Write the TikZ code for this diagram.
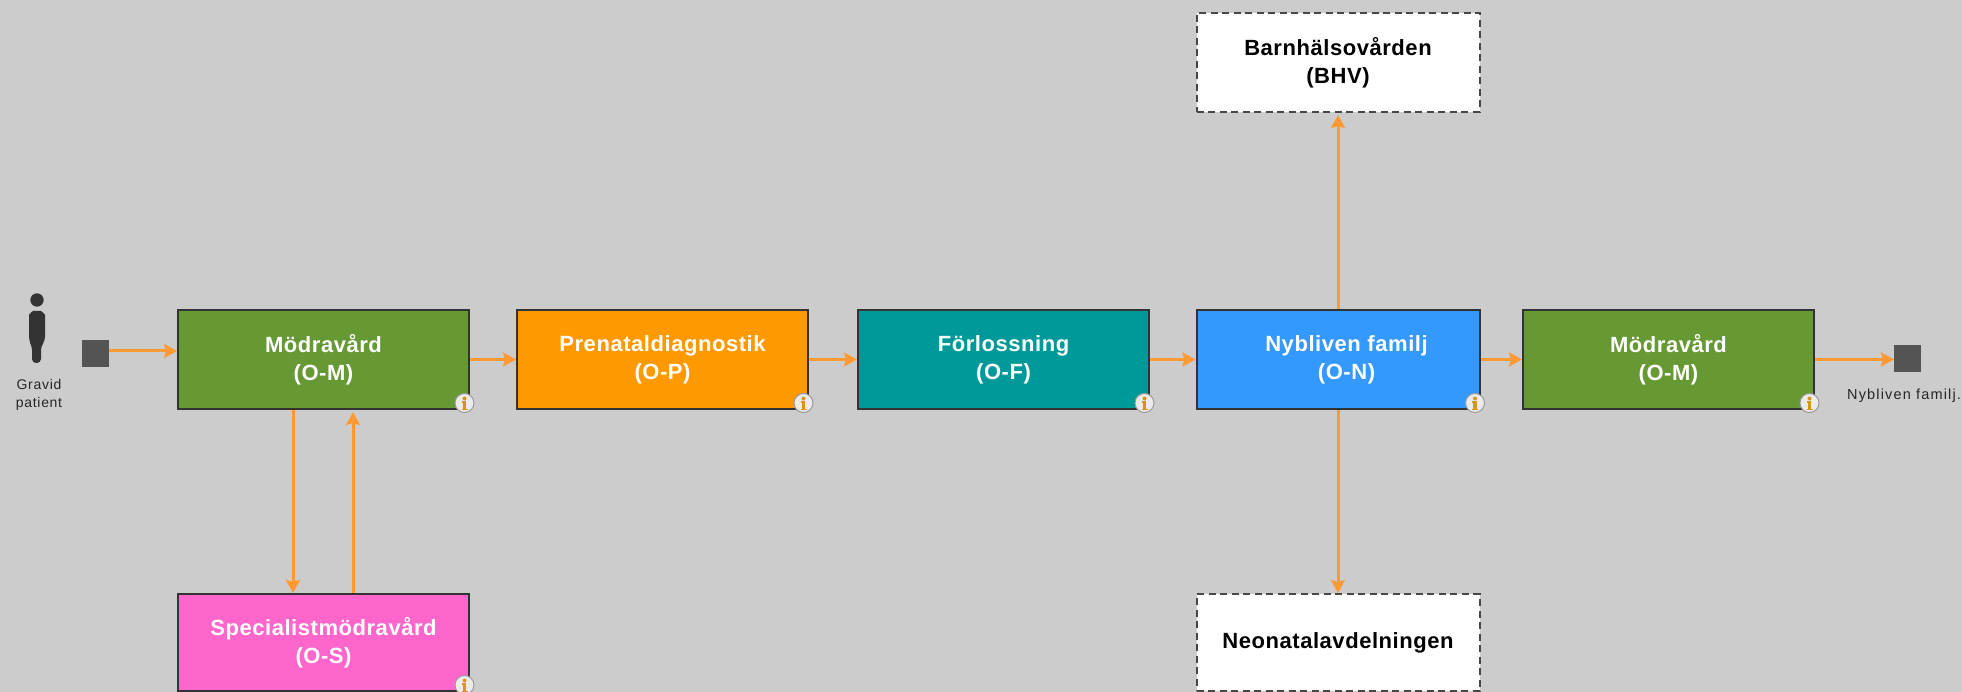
\documentclass[tikz,border=0pt]{standalone}
\usepackage{fontspec}
\setmainfont{Liberation Sans}
\usetikzlibrary{arrows.meta,positioning}
\definecolor{flowc}{HTML}{FF9933}
\definecolor{infoo}{HTML}{D9951A}
\definecolor{cgreen}{HTML}{669933}
\definecolor{corange}{HTML}{FF9900}
\definecolor{cteal}{HTML}{009999}
\definecolor{cblue}{HTML}{3399FF}
\definecolor{cpink}{HTML}{FF66CC}
\definecolor{cbg}{HTML}{CCCCCC}
\tikzset{
  x=1pt,y=-1pt,
  boxfont/.style={font=\fontsize{22}{28}\selectfont\bfseries\addfontfeature{LetterSpace=2.5}},
  procbox/.style={draw=black!80,line width=2pt,anchor=north west,inner sep=0pt,align=center,
     boxfont,text=white,minimum height=99pt},
  extbox/.style={draw=black!72,line width=2pt,dash pattern=on 7pt off 4.5pt,fill=white,anchor=north west,inner sep=0pt,
     align=center,boxfont,text=black,minimum height=99pt,minimum width=283pt},
  endsq/.style={fill=black!67,draw=none,minimum size=27pt,inner sep=0pt,anchor=north west},
  flow/.style={draw=flowc,line width=3pt,-{Stealth[length=13pt,width=14pt,inset=2pt]}},
  captxt/.style={font=\fontsize{14}{18}\selectfont\addfontfeature{LetterSpace=5},text=black!85,align=center,inner sep=0pt},
  infoc/.style={circle,draw=black!40,line width=1pt,fill=white!92!black,minimum size=19pt,inner sep=0pt}
}
\newcommand{\infomark}[2]{%
  \node[infoc] (#1) at ([xshift=-5.5pt,yshift=7pt]#2.south east) {};
  \fill[infoo] ([yshift=4.5pt]#1.center) circle (2pt);
  \fill[infoo] ([xshift=-2.6pt,yshift=1.8pt]#1.center) rectangle ([xshift=1.6pt,yshift=0.2pt]#1.center);
  \fill[infoo] ([xshift=-1.6pt,yshift=0.2pt]#1.center) rectangle ([xshift=1.6pt,yshift=-5.5pt]#1.center);
  \fill[infoo] ([xshift=-3pt,yshift=-5.5pt]#1.center) rectangle ([xshift=3pt,yshift=-7.2pt]#1.center);
}
\begin{document}
\begin{tikzpicture}
\useasboundingbox (0,0) rectangle (1962,692);
\fill[cbg] (0,0) rectangle (1962,692);
% person
\fill[black!80] (37,300) circle (6.7pt);
\fill[black!80,rounded corners=4pt] (32,363) -- (32,346) -- (29,341) -- (29,319) .. controls (29,314) and (33,311) .. (37,311) .. controls (41,311) and (45,314) .. (45,319) -- (45,341) -- (41,346) -- (41,363) -- cycle;
\node[captxt] (gravid) at (39,395) {Gravid\\patient};
% boxes
\node[procbox,fill=cgreen,minimum width=291pt] (om) at (177,309) {Mödravård\\(O-M)};
\node[procbox,fill=corange,minimum width=291pt] (op) at (516,309) {Prenataldiagnostik\\(O-P)};
\node[procbox,fill=cteal,minimum width=291pt] (of) at (857,309) {Förlossning\\(O-F)};
\node[procbox,fill=cblue,minimum width=283pt] (on) at (1195.5,309) {\hspace*{17pt}Nybliven familj\\\hspace*{17pt}(O-N)};
\node[procbox,fill=cgreen,minimum width=291pt] (om2) at (1522,309) {Mödravård\\(O-M)};
\node[procbox,fill=cpink,minimum width=291pt,minimum height=97pt] (os) at (177,593) {Specialistmödravård\\(O-S)};
\node[extbox] (bhv) at (1195.5,12) {Barnhälsovården\\(BHV)};
\node[extbox,minimum height=97pt] (neo) at (1195.5,593) {Neonatalavdelningen};
% end squares
\node[endsq] (s1) at (82,340) {};
\node[endsq] (s2) at (1894,345) {};
\node[captxt,anchor=west,font=\fontsize{14.5}{18}\selectfont\addfontfeature{LetterSpace=8}] (nyb) at (1847,396) {Nybliven familj.};
% connectors
\coordinate (a1) at (108,351);
\draw[flow] (s1.east |- a1) -- (om.west |- a1);
\draw[flow] (om.east) -- (op.west);
\draw[flow] (op.east) -- (of.west);
\draw[flow] (of.east) -- (on.west);
\draw[flow] (on.east) -- (om2.west);
\draw[flow] (om2.east) -- (om2.east -| s2.west);
\coordinate (d) at (293,500);
\coordinate (u) at (353,500);
\draw[flow] (om.south -| d) -- (os.north -| d);
\draw[flow,shorten >=2pt] (os.north -| u) -- (om.south -| u);
\draw[flow,shorten >=2pt] (on.north) -- (bhv.south);
\draw[flow] (on.south) -- (neo.north);
% info marks
\infomark{i1}{om}
\infomark{i2}{op}
\infomark{i3}{of}
\infomark{i4}{on}
\infomark{i5}{om2}
\infomark{i6}{os}
\end{tikzpicture}
\end{document}
